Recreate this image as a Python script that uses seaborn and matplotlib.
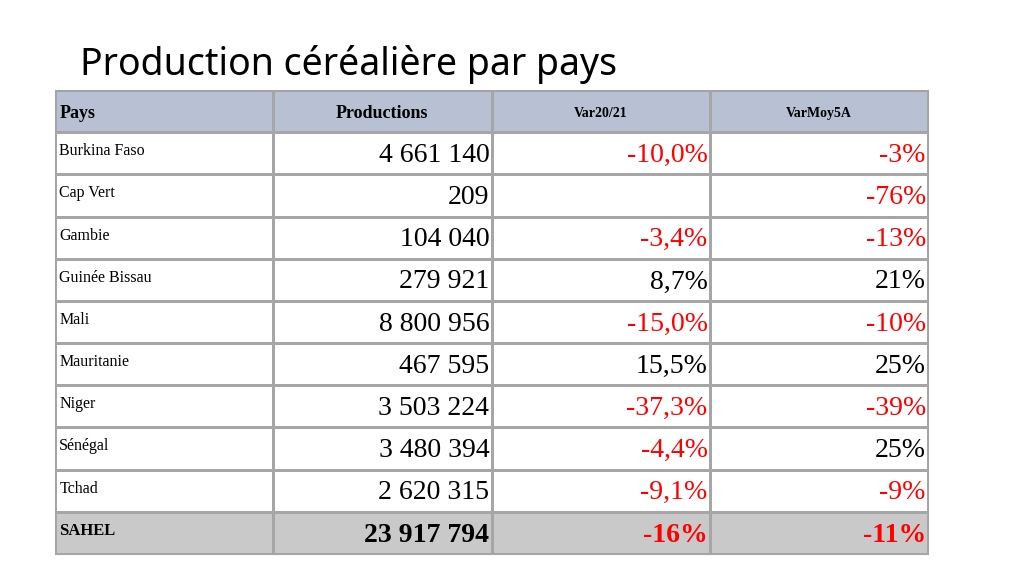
import matplotlib
matplotlib.use("Agg")
import matplotlib.pyplot as plt
import seaborn as sns
import numpy as np
from matplotlib.colors import ListedColormap

countries = ["Burkina Faso", "Cap Vert", "Gambie", "Guinée Bissau", "Mali",
             "Mauritanie", "Niger", "Sénégal", "Tchad", "SAHEL"]
productions = ["4 661 140", "209", "104 040", "279 921", "8 800 956",
               "467 595", "3 503 224", "3 480 394", "2 620 315", "23 917 794"]
var2021 = [-10.0, None, -3.4, 8.7, -15.0, 15.5, -37.3, -4.4, -9.1, -16]
varmoy5a = [-3, -76, -13, 21, -10, 25, -39, 25, -9, -11]
headers = ["Pays", "Productions", "Var20/21", "VarMoy5A"]

nrows = len(countries) + 1
bg = np.zeros((nrows, 4))
bg[0, :] = 1
bg[-1, :] = 2

fig = plt.figure(figsize=(10.24, 5.76), dpi=100)
ax = fig.add_axes([55/1024, 1-554/576, (928-55)/1024, (554-90)/576])
sns.heatmap(bg, ax=ax, cmap=ListedColormap(["#ffffff", "#b7c1d3", "#c9c9c9"]),
            cbar=False, linewidths=0.8, linecolor="#a6a6a6", vmin=0, vmax=2)
ax.set_xticks([]); ax.set_yticks([])
ax.axhline(0, color="#555555", lw=1.5)
for s in ax.spines.values():
    s.set_visible(True); s.set_color("#a6a6a6"); s.set_linewidth(0.8)

serif = "Liberation Serif"
ax.text(0.02, 0.55, headers[0], ha="left", va="center", fontsize=13, fontweight="bold", family=serif)
ax.text(1.5, 0.55, headers[1], ha="center", va="center", fontsize=13, fontweight="bold", family=serif)
ax.text(2.5, 0.55, headers[2], ha="center", va="center", fontsize=10, fontweight="bold", family=serif)
ax.text(3.5, 0.55, headers[3], ha="center", va="center", fontsize=10, fontweight="bold", family=serif)

def fmt(v, dec):
    if dec:
        return f"{v:.1f}".replace(".", ",") + "%"
    return f"{v:d}%"

for i, c in enumerate(countries):
    y = i + 1.5
    last = i == len(countries) - 1
    w = "bold" if last else "normal"
    ax.text(0.02, y - 0.05, c, ha="left", va="center", fontsize=11.5 if not last else 12,
            fontweight=w, family=serif)
    ax.text(1.99, y + 0.05, productions[i], ha="right", va="center", fontsize=20, fontweight=w, family=serif)
    v = var2021[i]
    if v is not None:
        ax.text(2.99, y + 0.05, fmt(v, not last), ha="right", va="center", fontsize=20, fontweight=w,
                family=serif, color="#ff0000" if v < 0 else "black")
    v = varmoy5a[i]
    ax.text(3.99, y + 0.05, fmt(v, False), ha="right", va="center", fontsize=20, fontweight=w,
            family=serif, color="#ff0000" if v < 0 else "black")

fig.text(80/1024, 1-65/576, "Production céréalière par pays", ha="left", va="center",
         fontsize=27, family="Noto Sans")
fig.savefig("out.png", dpi=100)
